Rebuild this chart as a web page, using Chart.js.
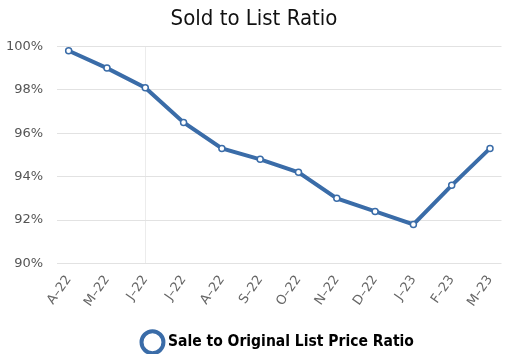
<!DOCTYPE html>
<html>
<head>
<meta charset="utf-8">
<script src="https://cdn.jsdelivr.net/npm/chart.js@4.4.0/dist/chart.umd.min.js"></script>
<style>
  html, body { margin: 0; padding: 0; background: #fff; }
  #wrap { width: 512px; height: 354px; }
</style>
</head>
<body>
<div id="wrap"><canvas id="chart"></canvas></div>
<script>
// --- data ---
const months = ['A–22', 'M–22', 'J–22', 'J–22', 'A–22', 'S–22', 'O–22', 'N–22', 'D–22', 'J–23', 'F–23', 'M–23'];
const saleToListRatio = [99.8, 99.0, 98.1, 96.5, 95.3, 94.8, 94.2, 93.0, 92.4, 91.8, 93.6, 95.3];
const yTicks = [90, 92, 94, 96, 98, 100];

const lineBlue = '#3a6ca8';

// centre the legend under the plot area, like the original
const centerLegend = {
    id: 'centerLegend',
    afterLayout(chart) {
        const lg = chart.legend;
        if (lg) {
            lg.left = chart.chartArea.left;
            lg.right = chart.chartArea.right;
            lg.top += 6;
            lg.bottom += 6;
        }
        const t = chart.titleBlock;
        if (t) { t.left += 12; }
    }
};

const ctx = document.getElementById('chart');
new Chart(ctx, {
    type: 'line',
    data: {
        datasets: [{
            label: 'Sale to Original List Price Ratio',
            data: saleToListRatio.map((v, i) => ({ x: i, y: v })),
            borderColor: lineBlue,
            backgroundColor: '#fff',
            borderWidth: 4,
            pointRadius: 3,
            pointBorderWidth: 1.5,
            pointBorderColor: lineBlue,
            pointBackgroundColor: '#fff',
            tension: 0
        }]
    },
    options: {
        responsive: true,
        maintainAspectRatio: false,
        animation: false,
        layout: { autoPadding: false, padding: { left: -8, right: 8, top: 0, bottom: 0 } },
        plugins: {
            title: {
                display: true,
                text: 'Sold to List Ratio',
                color: '#111',
                font: { family: 'DejaVu Sans Condensed', size: 22, weight: 'normal' },
                padding: { top: 6, bottom: 14 }
            },
            legend: {
                position: 'bottom',
                labels: {
                    usePointStyle: true,
                    pointStyle: 'circle',
                    boxWidth: 18,
                    boxHeight: 18,
                    color: '#111',
                    font: { family: 'DejaVu Sans Condensed', size: 15.5, weight: 'bold' },
                    padding: 10,
                    generateLabels: (chart) => [{
                        text: chart.data.datasets[0].label,
                        fillStyle: '#fff',
                        strokeStyle: lineBlue,
                        lineWidth: 4,
                        pointStyle: 'circle',
                        datasetIndex: 0
                    }]
                }
            },
            tooltip: { enabled: false }
        },
        scales: {
            x: {
                type: 'linear',
                min: -0.3,
                max: months.length - 1 + 0.3,
                afterBuildTicks: (axis) => {
                    axis.ticks = months.map((_, i) => ({ value: i }));
                },
                ticks: {
                    autoSkip: false,
                    maxRotation: 55,
                    minRotation: 55,
                    color: '#666',
                    padding: 9,
                    font: { family: 'DejaVu Sans', size: 13 },
                    callback: (v) => months[v] ?? ''
                },
                grid: {
                    color: (c) => c.tick && c.tick.value === 2 ? '#ececec' : 'rgba(0,0,0,0)',
                    drawTicks: false
                },
                border: { display: false }
            },
            y: {
                min: 90,
                max: 100,
                afterBuildTicks: (axis) => {
                    axis.ticks = yTicks.map(v => ({ value: v }));
                },
                ticks: {
                    color: '#555',
                    font: { family: 'DejaVu Sans', size: 13 },
                    padding: 14,
                    callback: (v) => v + '%'
                },
                grid: { color: '#e2e2e2', drawTicks: false },
                border: { display: false }
            }
        }
    },
    plugins: [centerLegend]
});
</script>
</body>
</html>
